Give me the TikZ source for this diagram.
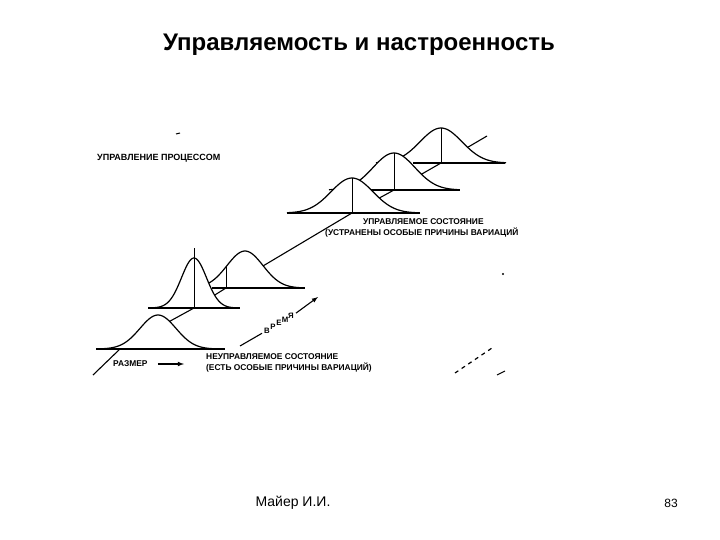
\documentclass[tikz,border=0pt]{standalone}
\usepackage{fontspec}
\setmainfont{Liberation Sans}
\usetikzlibrary{arrows}

\begin{document}
\begin{tikzpicture}[x=1pt, y=-1pt,
        bell/.style={draw=black, line width=1.2pt, line join=round},
        base/.style={line width=1.7pt},
        axis/.style={line width=1.1pt},
        mean/.style={line width=0.9pt},
        scan/.style={font=\fontsize{8.4}{9}\selectfont\bfseries, inner sep=0pt, anchor=west}]
        \useasboundingbox (0, 0) rectangle (720, 540);

        \node (title) at (359, 45) {\fontsize{24}{28}\selectfont\bfseries Управляемость и настроенность};
        \node (author) at (293, 503) {\fontsize{14}{16}\selectfont Майер И.И.};
        \node (page) at (671, 503) {\fontsize{12}{14}\selectfont 83};

        % time axis
        \coordinate (t0) at (93, 375);
        \coordinate (t1) at (121, 348);
        \coordinate (b2) at (194, 308);
        \coordinate (b3) at (226, 288);
        \coordinate (b4) at (352, 213);
        \coordinate (b5) at (394, 190);
        \coordinate (b6) at (441, 163);
        \coordinate (t7) at (487, 136);
        \draw[axis] (t0) -- (t1) -- (b2) -- (b3) -- (b4) -- (b5) -- (b6) -- (t7);

        % controlled state, back to front
        \fill[white] plot[domain=376:506, samples=60] (\x, {163-35*exp(-((\x-441)^2)/882)}) -- cycle;
        \draw[base] (413, 163) -- (505, 163);
        \draw[bell] plot[domain=376:506, samples=60] (\x, {163-35*exp(-((\x-441)^2)/882)});
        \draw[mean] (b6) -- ++(0, -35);

        \fill[white] plot[domain=329:459, samples=60] (\x, {190-37*exp(-((\x-394)^2)/882)}) -- cycle;
        \draw[base] (363, 190) -- (460, 190);
        \draw[bell] plot[domain=329:459, samples=60] (\x, {190-37*exp(-((\x-394)^2)/882)});
        \draw[mean] (b5) -- ++(0, -37);

        \fill[white] plot[domain=287:417, samples=60] (\x, {213-35*exp(-((\x-352)^2)/882)}) -- cycle;
        \draw[base] (287, 213) -- (420, 213);
        \draw[bell] plot[domain=287:417, samples=60] (\x, {213-35*exp(-((\x-352)^2)/882)});
        \draw[mean] (b4) -- ++(0, -35);

        % uncontrolled state
        \fill[white] plot[domain=187:303, samples=60] (\x, {288-37*exp(-((\x-245)^2)/648)}) -- cycle;
        \draw[base] (212, 288) -- (305, 288);
        \draw[bell] plot[domain=187:303, samples=60] (\x, {288-37*exp(-((\x-245)^2)/648)});
        \draw[mean] (b3) -- ++(0, -21);

        \fill[white] plot[domain=154:234, samples=60] (\x, {308-50*exp(-((\x-194)^2)/312)}) -- cycle;
        \draw[base] (148, 308) -- (240, 308);
        \draw[bell] plot[domain=154:234, samples=60] (\x, {308-50*exp(-((\x-194)^2)/312)});
        \draw[mean] (b2) -- ++(0, -60);

        \fill[white] plot[domain=100:216, samples=60] (\x, {349-34*exp(-((\x-158)^2)/648)}) -- cycle;
        \draw[base] (96, 349) -- (225, 349);
        \draw[bell] plot[domain=100:216, samples=60] (\x, {349-34*exp(-((\x-158)^2)/648)});

        % labels
        \node[scan, font=\fontsize{9}{10}\selectfont\bfseries] (process) at (97, 158) {УПРАВЛЕНИЕ ПРОЦЕССОМ};
        \node[scan] (ctrl1) at (363, 222) {УПРАВЛЯЕМОЕ СОСТОЯНИЕ};
        \node[scan] (ctrl2) at (325, 233) {(УСТРАНЕНЫ ОСОБЫЕ ПРИЧИНЫ ВАРИАЦИЙ};
        \node[scan] (unctrl1) at (206, 357) {НЕУПРАВЛЯЕМОЕ СОСТОЯНИЕ};
        \node[scan] (unctrl2) at (206, 368) {(ЕСТЬ ОСОБЫЕ ПРИЧИНЫ ВАРИАЦИЙ)};
        \node[scan] (razmer) at (113, 364) {РАЗМЕР};
        \foreach \ch [count=\i] in {В,Р,Е,М,Я}
            \node[scan, anchor=center, font=\fontsize{7.8}{8}\selectfont\bfseries]
                (v\i) at ({261+6*\i}, {334-3.6*\i}) {\ch};

        \coordinate (razmerEnd) at (184, 364);
        \draw[axis, -latex] ([xshift=10pt]razmer.east) -- (razmerEnd);
        \coordinate (vStart) at (240, 346);
        \coordinate (vEnd) at (318, 297);
        \draw[axis] (vStart) -- ([xshift=-2pt]v1.south west);
        \draw[axis, -latex] ([xshift=2pt]v5.north east) -- (vEnd);

        % specks of the scan
        \draw[line width=1pt] (176, 134) -- (180, 133);
        \fill (503, 274) circle (1.2pt);
        \draw[line width=1.2pt, dash pattern=on 4pt off 4pt] (455, 373) -- (492, 348);
        \draw[line width=1pt] (497, 375) -- (505, 371);
\end{tikzpicture}
\end{document}
